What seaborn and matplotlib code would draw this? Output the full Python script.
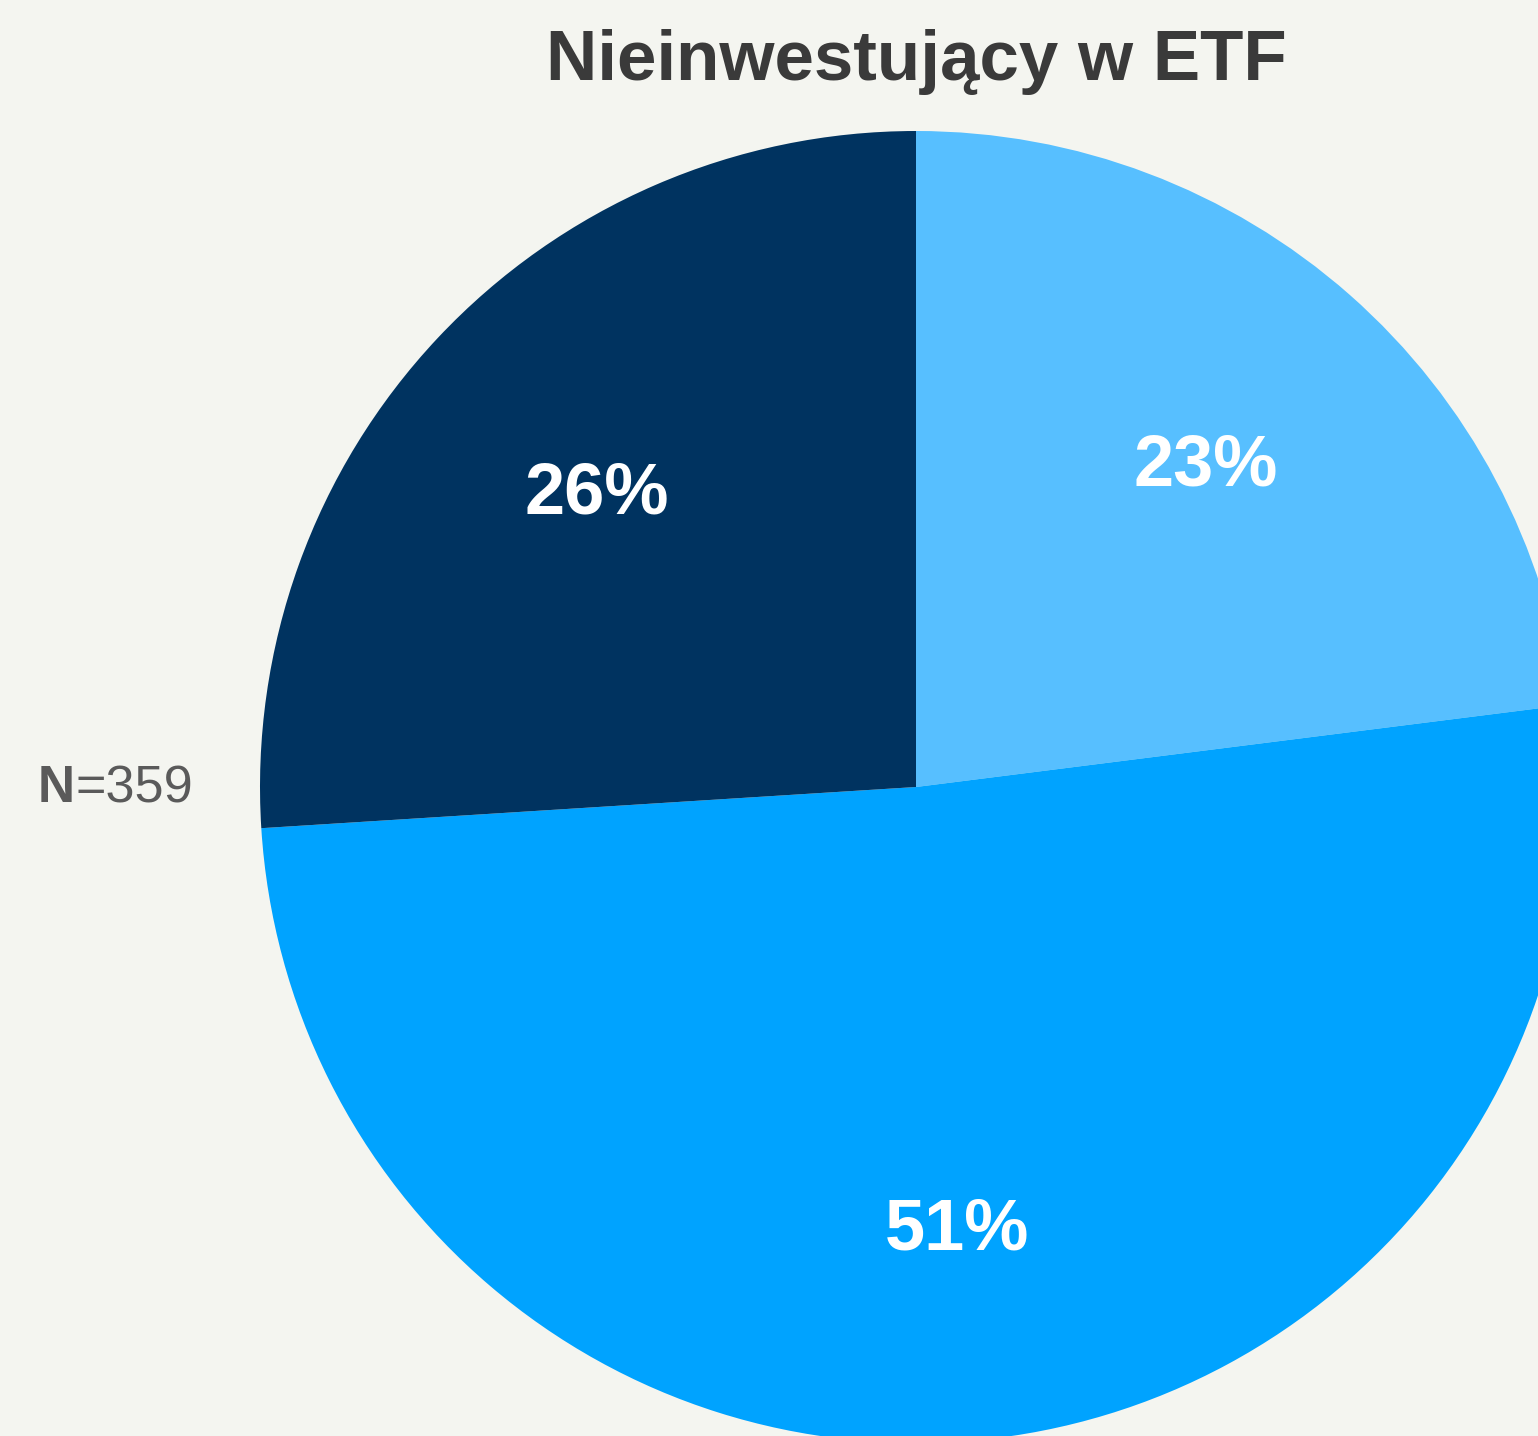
import matplotlib
matplotlib.use("Agg")
import matplotlib.pyplot as plt
import seaborn as sns

# dane
kategorie = ["A", "B", "C"]
wartosci = [23, 51, 26]
etykiety = ["23%", "51%", "26%"]
kolory = ["#57BFFF", "#00A3FF", "#003360"]
tytul = "Nieinwestujący w ETF"
liczebnosc = "=359"

sns.set_theme(style="white")
plt.rcParams["font.family"] = ["Liberation Sans", "DejaVu Sans"]

tlo = "#F4F5F0"
W, H = 1538, 1436
fig = plt.figure(figsize=(W / 100, H / 100), dpi=100, facecolor=tlo)

# os w pikselach: srodek (916, 787), promien 656
cx, cy, r = 916, 787, 656
ax = fig.add_axes([(cx - r) / W, (H - cy - r) / H, 2 * r / W, 2 * r / H])
ax.set_facecolor(tlo)

paleta = sns.color_palette(kolory)
wedges, teksty = ax.pie(
    wartosci,
    colors=paleta,
    startangle=90,
    counterclock=False,
    radius=1,
    labels=etykiety,
    labeldistance=0.667,
    wedgeprops=dict(linewidth=0),
    textprops=dict(color="white", fontsize=52, fontweight="bold",
                   ha="center", va="center_baseline"),
)
ax.set_xlim(-1, 1)
ax.set_ylim(-1, 1)
ax.set_aspect("equal")
ax.axis("off")

fig.text(cx / W, 1 - 80 / H, tytul, ha="center", va="baseline",
         fontsize=51, fontweight="bold", color="#3a3a3a")

fig.text(38 / W, 1 - 789 / H, "N", ha="left", va="center",
         fontsize=37, fontweight="bold", color="#5a5a5a")
fig.text(76 / W, 1 - 789 / H, liczebnosc, ha="left", va="center",
         fontsize=37.5, color="#5a5a5a")

fig.savefig("out.png", dpi=100, facecolor=tlo)
